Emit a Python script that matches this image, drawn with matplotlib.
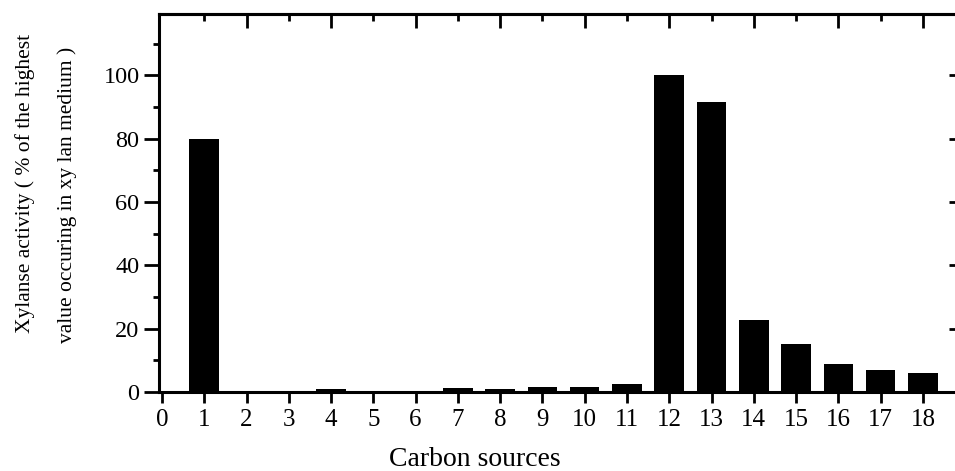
import matplotlib
matplotlib.use("Agg")
import matplotlib.pyplot as plt
from matplotlib.ticker import FixedLocator

# Data
sources = list(range(1, 19))
activity = [80, 0.3, 0.2, 1.0, 0.4, 0.3, 1.2, 1.0, 1.6, 1.5, 2.4,
            100, 91.5, 22.8, 15.2, 8.9, 6.9, 5.9]
x_ticks = list(range(0, 19))
y_ticks = [0, 20, 40, 60, 80, 100]
xlabel = "Carbon sources"
ylabel_line1 = "Xylanse activity ( % of the highest"
ylabel_line2 = "value occuring in xy lan medium )"

plt.rcParams['font.family'] = ['Liberation Serif', 'DejaVu Serif']

W, H = 955, 471
fig = plt.figure(figsize=(W / 100, H / 100), dpi=100)
ax = fig.add_axes([159 / W, 79 / H, 1 - 159 / W, (392 - 14) / H])

ax.bar(sources, activity, width=0.7, color='black', edgecolor='black', linewidth=0)

ax.set_xlim(-0.07, 18.76)
ax.set_ylim(0, 119.4)

for s in ['left', 'bottom', 'top']:
    ax.spines[s].set_linewidth(2.2)
ax.spines['right'].set_visible(False)

ax.xaxis.set_major_locator(FixedLocator(x_ticks))
ax.set_xticklabels([str(v) for v in x_ticks])
ax.yaxis.set_major_locator(FixedLocator(y_ticks))
ax.yaxis.set_minor_locator(FixedLocator([10, 30, 50, 70, 90, 110]))

ax.tick_params(axis='x', which='major', direction='out', length=8, width=2,
               labelsize=18, pad=4, top=False)
ax.tick_params(axis='y', which='major', direction='out', length=11, width=2,
               labelsize=17.5, pad=3, right=False)
ax.tick_params(axis='y', which='minor', direction='out', length=4, width=2,
               right=False)

# right ticks inward short
sec_r = ax.secondary_yaxis('right')
sec_r.yaxis.set_major_locator(FixedLocator(y_ticks[1:]))
sec_r.tick_params(direction='in', length=4, width=2, labelright=False)
sec_r.spines['right'].set_visible(False)

# top ticks: long at even, short at odd, inward
sec_t = ax.secondary_xaxis('top')
sec_t.xaxis.set_major_locator(FixedLocator(list(range(2, 19, 2))))
sec_t.xaxis.set_minor_locator(FixedLocator(list(range(1, 19, 2))))
sec_t.tick_params(which='major', direction='in', length=10, width=2, labeltop=False)
sec_t.tick_params(which='minor', direction='in', length=5, width=2)
sec_t.spines['top'].set_linewidth(2.2)

fig.text(475 / W, 1 - 459 / H, xlabel, ha='center', va='center', fontsize=20)
fig.text(25 / W, 1 - 183 / H, ylabel_line1, rotation=90, ha='center', va='center', fontsize=15.5)
fig.text(67 / W, 1 - 195 / H, ylabel_line2, rotation=90, ha='center', va='center', fontsize=15.5)

fig.savefig('out.png', dpi=100)
